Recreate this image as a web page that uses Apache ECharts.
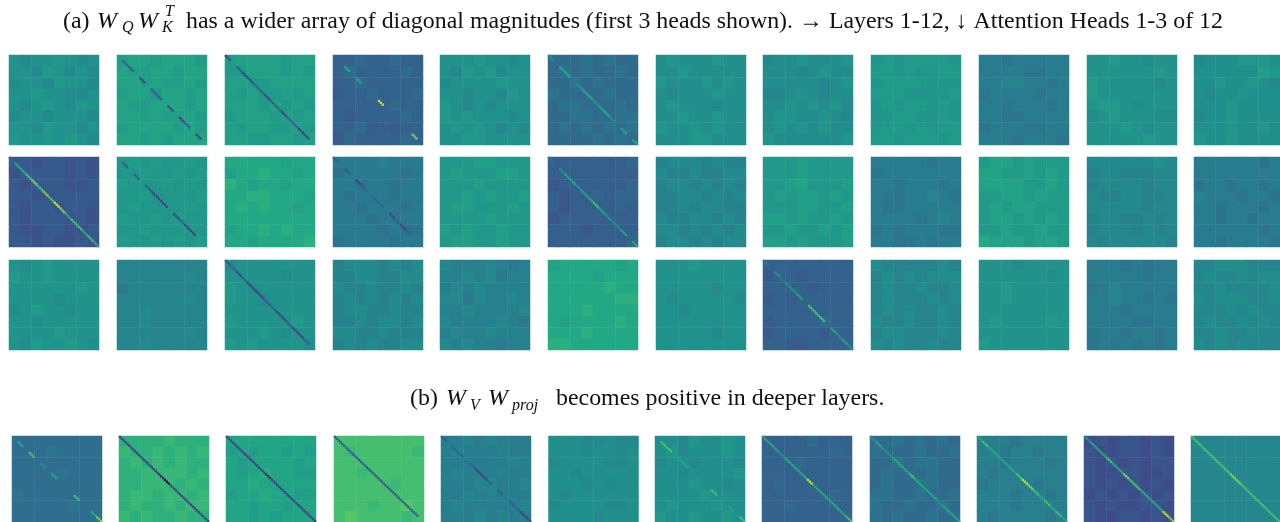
<!DOCTYPE html>
<html><head><meta charset="utf-8">
<style>html,body{margin:0;padding:0;background:#fff;overflow:hidden}#c{width:1280px;height:522px}</style>
<script src="https://cdn.jsdelivr.net/npm/echarts@6/dist/echarts.min.js"></script>
</head><body><div id="c"></div>
<script>
// Each panel: an eye-read mean colour level, plus a coarse 8x8 estimate of where it runs lighter or darker.
// The per-cell noise in the picture is too fine to read, so it is not reproduced.
const headOneMeans = [.50,.57,.56,.32,.50,.36,.50,.49,.53,.41,.51,.50];
const headTwoMeans = [.27,.53,.60,.40,.54,.30,.46,.54,.41,.56,.46,.41];
const headThreeMeans = [.51,.45,.51,.46,.44,.60,.50,.31,.46,.51,.41,.47];
const projMeans = [.36,.65,.58,.70,.43,.49,.50,.32,.36,.42,.25,.46];
const headOnePatches = [
"5455654555465454455465545565544554565465455455545546554565565654",
"5665666565566566665655655664665665566656665655655666656566565666",
"5666656655666565665566666565565666656565566656566566556566556656",
"3343343334333343334333332334333433333433323333433342323324333343",
"5556554554656455455556555545546565454555656555455656545455665555",
"3334343334343343334343334333343334433343334433443434343433334343",
"5655565555655555655565655455565556555455556556556556565555566555",
"4556555655545655555554564456545555656565566556545656565565555556",
"5656666566565566566665556665555656566565556655655665656666566656",
"4434444444443344445544343444434444344434443344443444334444434443",
"5565545555555565655555456555555556654555456555445556545555555655",
"4555666555555576556556545455655555565555455655555556556565565555"];
const headTwoPatches = [
"3323323223333232323332233322333332332332323332323223322333232232",
"5656556555655656655565655565555656555565655656555565556565565656",
"6666656656676656765665666677666567676656666666665667676666566667",
"4444544434444434443443444344434444344434444344444444343334444344",
"5556655556555665555655555565655656655565555565556565565556655655",
"3333333433333333233333343233434432333343233333333332333333333334",
"4555454454454455455454544455454544545544544554545545454545545455",
"5556555555565555556755565656656555566556665655655565565666565556",
"4444434434444444443444344334454343344444444434543434443344334344",
"5665655566556565666655655566565556566555566565655565565576665665",
"5555556545544455455554555445544555555455455445454555454554555554",
"4444443444444444344344345444344344344434443443444444443444344443"];
const headThreePatches = [
"5456555565565555555555655555455545655455554555555555655554655654",
"4444444444444454344444444444445444544444445444444444445444544444",
"4555555555555455654555556554555555555555655555655556545565655554",
"4555454544554455544544544545454545544544445455455544544445454455",
"5444543444545344454544445535445444544445544445434544544454544344",
"5666665666665666666667666666667766676666656666766667666677666666",
"5556555555555555555554555455555455455555555555555555545555555555",
"3333333323323333333323332323333333333333233334332333323333223333",
"5444445445454555454454454544454545454454544544544554445454544544",
"5554555555555545556555555565555555555555565555655555555565555555",
"4443434444444344345444444454434344434444444433443443443434343434",
"4455544445445455445444455455544544454544454454544454454454545444"];
const projPatches = [
"3333333333343333333333333333433333333333433333333333343333333333",
"6666766676676767676767666677776766777676677677676766767776766766",
"6666666656566565656666566567665566766666566766556656656666565666",
"7777777776777776777777777767777777777677777777777776778778777767",
"4454544445444544444444544544454444455445445454444544444544454544",
"5554454455545545455554455545555555545455545555554555544555554555",
"5546556556455565455455545545555655565545555565555655565565565565",
"3333433333333343333433333333333334333333333333433343333333333333",
"3343434343334334334344333433343334334433443343344334334343433433",
"4443444444344344443444344344444434444344444344344443444443444434",
"2323323232233232323232333223322332323232232323233232233232233232",
"4444444444444444444444444444444444444444444444444444444444444444"];
// diagonal cells, 16 stretches from top-left to bottom-right; "." = no visible diagonal
const headOneDiagonals = ["................",".33.2.33.2.23.2.","2.3223323323322.","..6.6...9.....8.","................","5.66.5665665.6.6","................","................","................","................","................","................"];
const headTwoDiagonals = ["3667878798677676",".3.3.3222.2322..","................","3.3.23.33.2323..","................","4.566566765556.6","................","................","................","................","................","................"];
const headThreeDiagonals = ["................","................","332322233223223.","................","................","................","................","4.54556.777.6565","................","................","................","................"];
const projDiagonals = [".6.7.5.6...7..68","2222222102222222","2222222122222222","333333333333333.","3.33.3223.3.3322","................",".77.66....7..6.7","6665666696666667","5655666766665666","6766666798767676","5666766877666698","7777777887777777"];

const viridis = ["#440154","#482475","#414487","#355f8d","#2a788e","#21918c","#22a884","#44bf70","#7ad151","#bddf26","#fde725"];
const patchesAcross = 8, diagonalCells = 48, patchContrast = 0.3;
const columnsA = [9,117,225,333,440,548,656,763,871,979,1087,1194];
const columnsB = [12,119,226,334,441,548.5,655,762,870,977,1084,1191];
const rowsA = [55,157,260], rowB = 436, panelSize = 90;
const indexList = n => Array.from({length:n},(_,i)=>String(i));

const grid=[],xAxis=[],yAxis=[],series=[];
function addPanel(left,top,patches,diagonal,mean){
  const g=grid.length;
  grid.push({left,top,width:panelSize,height:panelSize,show:false});
  const pair=(n,gi)=>{
    xAxis.push({type:'category',gridIndex:gi,data:indexList(n),show:false});
    yAxis.push({type:'category',gridIndex:gi,data:indexList(n),show:false,inverse:true});
    return xAxis.length-1;
  };
  const a=pair(patchesAcross,g);
  let sum=0;
  for(const ch of patches)sum+=+ch;
  const digitMean=sum/patches.length;
  const coarse=[];
  for(let i=0;i<patches.length;i++){
    coarse.push([i%patchesAcross,Math.floor(i/patchesAcross),mean*10+(+patches[i]-digitMean)*patchContrast]);
  }
  series.push({type:'heatmap',xAxisIndex:a,yAxisIndex:a,data:coarse,silent:true,progressive:0,itemStyle:{borderWidth:0},emphasis:{disabled:true}});
  if(/\d/.test(diagonal)){
    const b=pair(diagonalCells,g);
    const cells=[];
    const span=diagonalCells/diagonal.length;
    for(let s=0;s<diagonal.length;s++){
      if(diagonal[s]==='.')continue;
      for(let k=0;k<span;k++){const p=s*span+k;cells.push([p,p,+diagonal[s]]);}
    }
    series.push({type:'heatmap',xAxisIndex:b,yAxisIndex:b,data:cells,silent:true,progressive:0,z:3,itemStyle:{borderWidth:0},emphasis:{disabled:true}});
  }
}
[[headOnePatches,headOneDiagonals,headOneMeans],[headTwoPatches,headTwoDiagonals,headTwoMeans],[headThreePatches,headThreeDiagonals,headThreeMeans]].forEach(([p,d,m],r)=>{
  p.forEach((s,c)=>addPanel(columnsA[c],rowsA[r],s,d[c],m[c]));
});
projPatches.forEach((s,c)=>addPanel(columnsB[c],rowB,s,projDiagonals[c],projMeans[c]));

const serif='"Liberation Serif","DejaVu Serif",serif';
const t=(text,x,y,size,italic)=>({type:'text',left:x,top:y,silent:true,style:{text,fill:'#111',font:(italic?'italic ':'')+size+'px '+serif}});
const graphic=[
 t('(a)',63,10,23.9),t('W',97,10,23.9,true),t('Q',122,20,16,true),t('W',138,10,23.9,true),t('K',162,20,16,true),t('T',165,4,16,true),
 t('has a wider array of diagonal magnitudes (first 3 heads shown). → Layers 1-12, ↓ Attention Heads 1-3 of 12',186,10,23.9),
 t('(b)',410,387,23.9),t('W',446,387,23.9,true),t('V',470,398,16,true),t('W',488,387,23.9,true),t('proj',512,398,16,true),
 t('becomes positive in deeper layers.',556,387,23.9)
];
const chart=echarts.init(document.getElementById('c'),null,{renderer:'canvas'});
chart.setOption({animation:false,backgroundColor:'#fff',tooltip:{show:false},grid,xAxis,yAxis,series,graphic,
 visualMap:{show:false,min:0,max:10,seriesIndex:series.map((_,i)=>i),inRange:{color:viridis}}});
</script></body></html>
